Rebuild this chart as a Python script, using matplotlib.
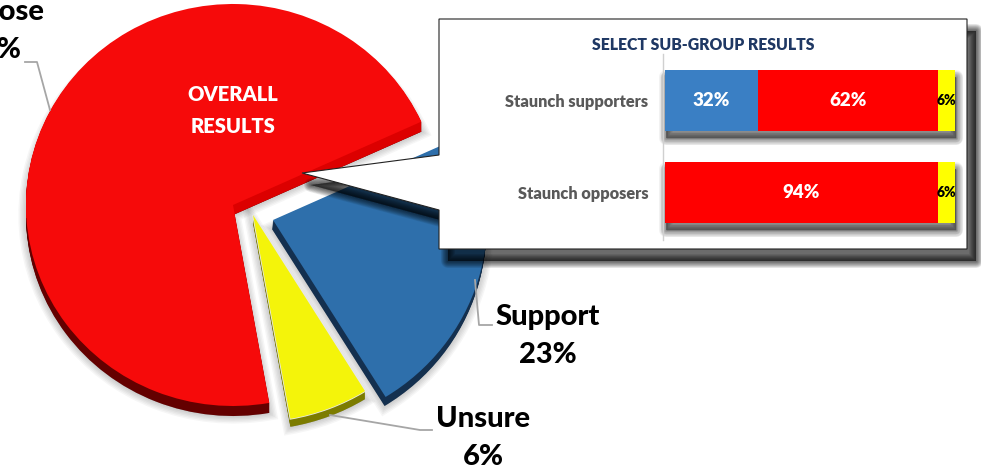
import matplotlib
matplotlib.use('Agg')
import matplotlib.pyplot as plt
from matplotlib.patches import Polygon, Rectangle

plt.rcParams['font.family'] = ['Lato', 'DejaVu Sans']

# overall pie
pie_labels = ['Oppose', 'Unsure', 'Support']
pie_values = [71, 6, 23]

# sub-group bars
groups = ['Staunch supporters', 'Staunch opposers']
support = [32, 0]
oppose = [62, 94]
unsure = [6, 6]

W, H = 981, 471
XS = 1.03  # pie is a bit wider than tall
top_cols = ['#f60a0a', '#f4f40a', '#2e6fab']
side_cols = ['#640000', '#7c7c00', '#14304f']
centers = [(233, 205), (253, 215), (273, 220)]
depth = [(0, 10), (0, 8), (-1, 9)]
radii = [201, 207, 208]
START = 24.5

fig = plt.figure(figsize=(W / 100, H / 100), dpi=100)


def px_axes(x0, y0, x1, y1):
    return fig.add_axes([x0 / W, 1 - y1 / H, (x1 - x0) / W, (y1 - y0) / H])


ax = fig.add_axes([0, 0, 1, 1])


def pie_layer(cols, off=0.0, only=None):
    wedges, _ = ax.pie(pie_values, startangle=START, radius=200, colors=cols,
                       wedgeprops={'linewidth': 0})
    for i, w in enumerate(wedges):
        cx, cy = centers[i]
        w.set_center(((cx + off * depth[i][0]) / XS, H - (cy + off * depth[i][1])))
        w.set_radius(radii[i])
        if only is not None and i != only:
            w.set_visible(False)
    return wedges


# faint drop shadow under the wedges
for k in range(6):
    for w in pie_layer(['#000000'] * 3, off=1.0):
        w.set_alpha(0.035)
        w.set_edgecolor('#000000')
        w.set_linewidth(1 + k * 2)

for t in range(10, 0, -1):
    pie_layer(side_cols, off=t / 10)

# brighter cut face on the upper edge of the red slice
clip = Rectangle((0, H - 218), W, 218, transform=ax.transData)
for t in range(10, 0, -1):
    for w in pie_layer(['#dc0000'] * 3, off=t / 10, only=0):
        w.set_clip_on(True)  # pie turns clipping off
        w.set_clip_path(clip)

for w in pie_layer(['#ffffff'] * 3, only=1):
    w.set_edgecolor('#e8e8e8')
    w.set_linewidth(1.2)
pie_layer(top_cols)

ax.set_aspect('auto')
ax.set_xlim(0, W / XS)
ax.set_ylim(0, H)
ax.axis('off')

# overlay in pixel coordinates
ov = fig.add_axes([0, 0, 1, 1])
ov.set_xlim(0, W)
ov.set_ylim(H, 0)
ov.axis('off')
ov.patch.set_alpha(0)


def soft_shadow(pts, dx, dy, blur, alpha, n=10, z=2):
    shifted = [(x + dx, y + dy) for x, y in pts]
    for i in range(n):
        lw = (2 * blur) * (n - i) / n * 0.72
        ov.add_patch(Polygon(shifted, closed=True, fc='#000000', ec='#000000', lw=lw,
                             alpha=alpha, joinstyle='round', zorder=z))


# leader lines
grey = '#a6a6a6'
ov.plot([50, 37, 25], [110, 62, 62], color=grey, lw=1.3, zorder=1)
ov.plot([475, 479, 492], [280, 325, 325], color=grey, lw=1.3, zorder=1)
ov.plot([330, 420, 432], [415, 430, 430], color=grey, lw=1.3, zorder=1)

# callout with the inset panel
callout = [(439, 19), (967, 19), (967, 249), (439, 249), (439, 210), (302, 173), (439, 155)]
soft_shadow(callout, 9, 12, 7, 0.08)
ov.add_patch(Polygon(callout, closed=True, fc='white', ec='#222222', lw=0.8, zorder=3))

# pie labels
big = {'fontsize': 21, 'fontweight': 'black', 'color': 'black', 'ha': 'center', 'va': 'center',
       'linespacing': 1.54, 'zorder': 5}
ov.text(-7, 31, f'{pie_labels[0]}\n{pie_values[0]}%', clip_on=False, **big)
ov.text(483, 438, f'{pie_labels[1]}\n{pie_values[1]}%', **big)
ov.text(548, 336, f'{pie_labels[2]}\n{pie_values[2]}%', **big)
ov.text(233, 110.5, 'OVERALL\nRESULTS', fontsize=14.5, fontweight='heavy', color='white',
        ha='center', va='center', linespacing=1.79, zorder=5)
ov.text(703, 45, 'SELECT SUB-GROUP RESULTS', fontsize=11.3, fontweight='heavy', color='#1f3864',
        ha='center', va='center', zorder=5)

# bar shadows
for top in (70, 162):
    soft_shadow([(665, top), (955, top), (955, top + 61), (665, top + 61)], 1, 7, 7, 0.05, z=4)

# stacked bars
bx = px_axes(663, 54, 955, 240)
bx.patch.set_alpha(0)
pos = [0, 1]
h = 0.663
bx.barh(pos, support, height=h, color='#3a7fc4', zorder=3)
bx.barh(pos, oppose, left=support, height=h, color='#ff0000', zorder=3)
lefts = [a + b for a, b in zip(support, oppose)]
bx.barh(pos, unsure, left=lefts, height=h, color='#ffff00', zorder=3)
for i in pos:
    if support[i]:
        bx.text(support[i] / 2, i, f'{support[i]}%', color='white', fontsize=13.5, fontweight='heavy',
                ha='center', va='center', zorder=4)
    bx.text(support[i] + oppose[i] / 2, i, f'{oppose[i]}%', color='white', fontsize=13.5,
            fontweight='heavy', ha='center', va='center', zorder=4)
    bx.text(lefts[i] + unsure[i] / 2, i, f'{unsure[i]}%', color='black', fontsize=10,
            fontweight='heavy', ha='center', va='center', zorder=4)
bx.set_xlim(-0.69, 100)
bx.set_ylim(1.516, -0.505)
bx.set_xticks([])
bx.set_yticks(pos)
bx.set_yticklabels(groups, fontsize=11.8, fontweight='heavy', color='#595959')
bx.tick_params(axis='y', length=0, pad=10.5)
for s in ['top', 'right', 'bottom']:
    bx.spines[s].set_visible(False)
bx.spines['left'].set_color('#d0d0d0')
bx.spines['left'].set_linewidth(1)

fig.savefig('out.png', dpi=100)
